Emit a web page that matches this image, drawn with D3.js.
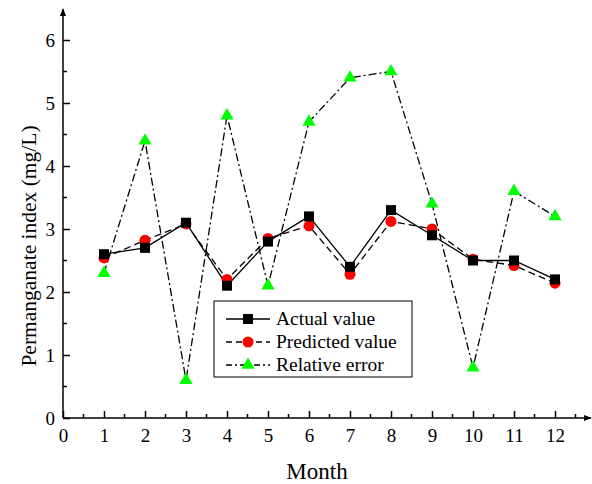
<!DOCTYPE html>
<html>
<head>
<meta charset="utf-8">
<script src="https://cdn.jsdelivr.net/npm/d3@7"></script>
<style>
  body { margin: 0; background: #fff; }
  svg text { font-family: "Liberation Serif", "Times New Roman", serif; fill: #000; }
</style>
</head>
<body>
<svg id="chart" width="592" height="484"></svg>
<script>
// Months on the x axis
const months = [1, 2, 3, 4, 5, 6, 7, 8, 9, 10, 11, 12];
// Series values
const actualValue = [2.6, 2.7, 3.1, 2.1, 2.8, 3.2, 2.4, 3.3, 2.9, 2.5, 2.5, 2.2];
const predictedValue = [2.54, 2.82, 3.08, 2.2, 2.85, 3.05, 2.28, 3.12, 3.0, 2.52, 2.42, 2.14];
const relativeError = [2.3, 4.4, 0.6, 4.8, 2.1, 4.7, 5.4, 5.5, 3.4, 0.8, 3.6, 3.2];
// Tick values
const xTicks = [0, 1, 2, 3, 4, 5, 6, 7, 8, 9, 10, 11, 12];
const yTicks = [0, 1, 2, 3, 4, 5, 6];
const seriesNames = ["Actual value", "Predicted value", "Relative error"];

const serif = "'Liberation Serif', 'Times New Roman', serif";
const svg = d3.select("#chart");

// x: 0 at 63px, 41px per month
const x = d3.scaleLinear().domain([0, 12]).range([63, 555]);
// y: 0 at 418px, 6 at 40px
const y = d3.scaleLinear().domain([0, 6]).range([418, 40]);

// arrow marker for axis ends
const defs = svg.append("defs");
defs.append("marker")
  .attr("id", "arrow")
  .attr("viewBox", "0 0 10 10")
  .attr("refX", 9).attr("refY", 5)
  .attr("markerWidth", 8).attr("markerHeight", 8)
  .attr("markerUnits", "userSpaceOnUse")
  .attr("orient", "auto")
  .append("path")
  .attr("d", "M0,1 L10,5 L0,9 Z")
  .attr("fill", "#000");

// x axis (ticks point up, inside)
const xAxis = d3.axisBottom(x)
  .tickValues(xTicks)
  .tickSize(-7)
  .tickPadding(11)
  .tickFormat(d3.format("d"));
const gx = svg.append("g").attr("transform", `translate(0,${y(0)})`).call(xAxis)
  .attr("font-family", serif).attr("font-size", 19);
gx.select(".domain").remove();
gx.selectAll("line").attr("stroke-width", 1.5);

// minor x ticks
const xMinor = d3.range(0.5, 13, 1);
svg.append("g").selectAll("line").data(xMinor).join("line")
  .attr("x1", d => x(d)).attr("x2", d => x(d))
  .attr("y1", y(0)).attr("y2", y(0) - 4)
  .attr("stroke", "#000").attr("stroke-width", 1.5);

// x axis line with arrow
svg.append("line")
  .attr("x1", x(0)).attr("x2", 591)
  .attr("y1", y(0)).attr("y2", y(0))
  .attr("stroke", "#000").attr("stroke-width", 1.5)
  .attr("marker-end", "url(#arrow)");

// y axis (ticks point right, inside)
const yAxis = d3.axisLeft(y)
  .tickValues(yTicks)
  .tickSize(-7)
  .tickPadding(8)
  .tickFormat(d3.format("d"));
const gy = svg.append("g").attr("transform", `translate(${x(0)},0)`).call(yAxis)
  .attr("font-family", serif).attr("font-size", 19);
gy.select(".domain").remove();
gy.selectAll("line").attr("stroke-width", 1.5);

// minor y ticks
const yMinor = d3.range(0.5, 6, 1);
svg.append("g").selectAll("line").data(yMinor).join("line")
  .attr("x1", x(0)).attr("x2", x(0) + 4)
  .attr("y1", d => y(d)).attr("y2", d => y(d))
  .attr("stroke", "#000").attr("stroke-width", 1.5);

// y axis line with arrow
svg.append("line")
  .attr("x1", x(0)).attr("x2", x(0))
  .attr("y1", y(0)).attr("y2", 9)
  .attr("stroke", "#000").attr("stroke-width", 1.5)
  .attr("marker-end", "url(#arrow)");

// axis titles
svg.append("text")
  .attr("x", 317).attr("y", 479)
  .attr("text-anchor", "middle")
  .attr("font-size", 23)
  .text("Month");

svg.append("text")
  .attr("transform", "translate(36,246) rotate(-90)")
  .attr("text-anchor", "middle")
  .attr("font-size", 21.5)
  .text("Permanganate index (mg/L)");

// series
const series = [
  { values: relativeError, dash: "8,3,2,3", marker: "triangle", color: "#00ff00" },
  { values: predictedValue, dash: "7,4", marker: "circle", color: "#ff0000" },
  { values: actualValue, dash: null, marker: "square", color: "#000" }
];

const line = d3.line()
  .x((d, i) => x(months[i]))
  .y(d => y(d));

const symbolFor = {
  square: d3.symbol().type(d3.symbolSquare).size(100),
  circle: d3.symbol().type(d3.symbolCircle).size(95),
  triangle: d3.symbol().type(d3.symbolTriangle).size(75)
};

series.forEach(s => {
  svg.append("path")
    .attr("d", line(s.values))
    .attr("fill", "none")
    .attr("stroke", "#000")
    .attr("stroke-width", 1.3)
    .attr("stroke-dasharray", s.dash);
});

// markers drawn after all lines
series.forEach(s => {
  svg.append("g").selectAll("path").data(s.values).join("path")
    .attr("transform", (d, i) => `translate(${x(months[i])},${y(d)})`)
    .attr("d", symbolFor[s.marker]())
    .attr("fill", s.color);
});

// legend
const legend = svg.append("g").attr("transform", "translate(214,301)");
legend.append("rect")
  .attr("width", 198).attr("height", 76)
  .attr("fill", "#fff").attr("stroke", "#000").attr("stroke-width", 1);

const legendItems = [
  { name: seriesNames[0], dash: null, marker: "square", color: "#000" },
  { name: seriesNames[1], dash: "6,4", marker: "circle", color: "#ff0000" },
  { name: seriesNames[2], dash: "6,3,2,3", marker: "triangle", color: "#00ff00" }
];

legendItems.forEach((item, i) => {
  const ly = 18 + i * 23;
  legend.append("line")
    .attr("x1", 12).attr("x2", 56)
    .attr("y1", ly).attr("y2", ly)
    .attr("stroke", "#000").attr("stroke-width", 1.3)
    .attr("stroke-dasharray", item.dash);
  legend.append("path")
    .attr("transform", `translate(34,${ly})`)
    .attr("d", symbolFor[item.marker]())
    .attr("fill", item.color);
  legend.append("text")
    .attr("x", 62).attr("y", ly + 6)
    .attr("font-size", 19.5)
    .text(item.name);
});
</script>
</body>
</html>
